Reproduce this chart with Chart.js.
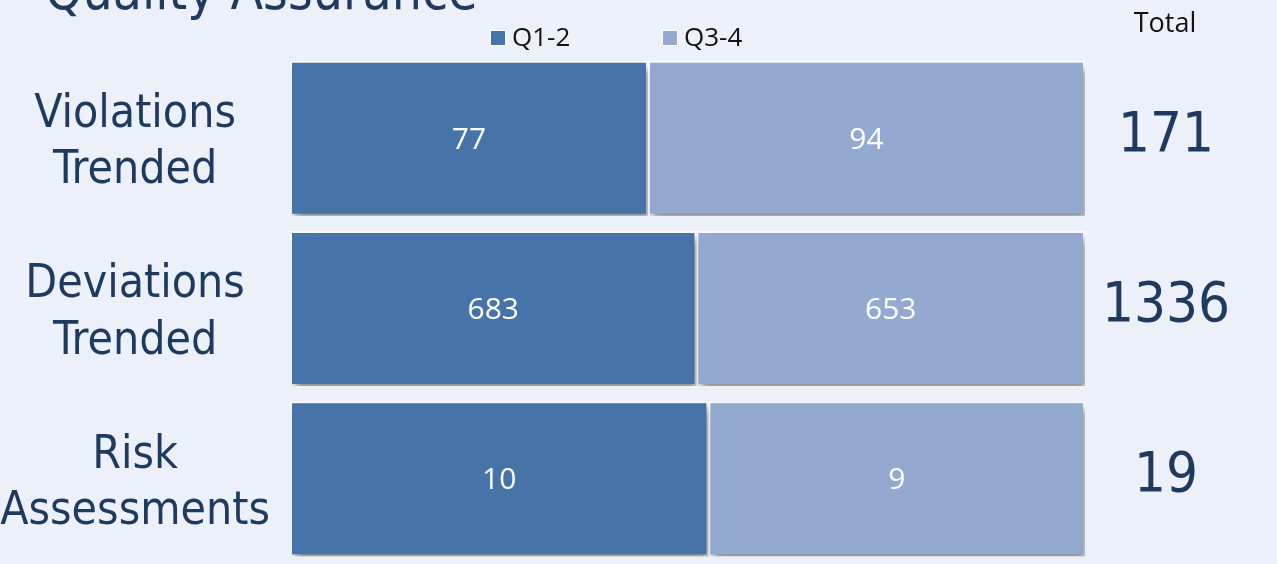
<!DOCTYPE html>
<html>
<head>
<meta charset="utf-8">
<script src="https://cdn.jsdelivr.net/npm/chart.js@4"></script>
<style>
  html, body { margin: 0; padding: 0; background: #ECF0F8; }
  #wrap { width: 1277px; height: 564px; position: relative; }
</style>
</head>
<body>
<div id="wrap"><canvas id="qaChart"></canvas></div>
<script>
// --- DATA ---
const categories = [['Violations', 'Trended'], ['Deviations', 'Trended'], ['Risk', 'Assessments']];
const seriesNames = ['Q1-2', 'Q3-4'];
const q12Values = [77, 683, 10];
const q34Values = [94, 653, 9];
const titleText = 'Quality Assurance';
const totalHeader = 'Total';

const NAVY = '#1E3A5F';
const COLOR_Q12 = '#4674A8';
const COLOR_Q34 = '#94A9D0';
const TAHOMA_LIKE = '"DejaVu Sans Condensed", "DejaVu Sans", sans-serif';
const CALIBRI_LIKE = '"Open Sans", "Liberation Sans", sans-serif';

// totaler pr. række og andel i procent (100% stablet)
const totals = q12Values.map((v, i) => v + q34Values[i]);
const q12Share = q12Values.map((v, i) => v / totals[i] * 100);
const q34Share = q34Values.map((v, i) => v / totals[i] * 100);
const rawValues = [q12Values, q34Values];

// Skygge under søjlerne
const shadowPlugin = {
    id: 'barShadow',
    beforeDatasetsDraw(chart) {
        const ctx = chart.ctx;
        ctx.save();
        ctx.shadowColor = 'rgba(0,0,0,0.45)';
        ctx.shadowBlur = 8;
        ctx.shadowOffsetX = 3;
        ctx.shadowOffsetY = 6;
    },
    afterDatasetsDraw(chart) {
        chart.ctx.restore();
    }
};

// Tekster: titel, legend, totaler og værdier i søjlerne
const textPlugin = {
    id: 'qaTexts',
    afterDraw(chart) {
        const ctx = chart.ctx;
        const yScale = chart.scales.y;
        ctx.save();

        // titel (skåret af i toppen)
        ctx.fillStyle = NAVY;
        ctx.textAlign = 'left';
        ctx.textBaseline = 'alphabetic';
        ctx.font = '53px ' + TAHOMA_LIKE;
        ctx.fillText(titleText, 45, 9);

        // legend
        ctx.font = '26px ' + CALIBRI_LIKE;
        ctx.textBaseline = 'middle';
        const legendX = [491, 663];
        chart.data.datasets.forEach((ds, i) => {
            ctx.fillStyle = '#ffffff';
            ctx.fillRect(legendX[i] - 1, 30, 16, 16);
            ctx.fillStyle = ds.backgroundColor;
            ctx.fillRect(legendX[i], 31, 14, 14);
            ctx.fillStyle = '#111111';
            ctx.fillText(ds.label, legendX[i] + 21, 39);
        });

        // "Total" overskrift
        ctx.font = '27px ' + CALIBRI_LIKE;
        ctx.textAlign = 'center';
        ctx.fillText(totalHeader, 1165, 24);

        // totaler
        ctx.fillStyle = NAVY;
        ctx.font = '56px ' + TAHOMA_LIKE;
        totals.forEach((t, i) => {
            ctx.fillText(String(t), 1166, yScale.getPixelForValue(i) - 2);
        });

        // værdier i søjlerne
        ctx.fillStyle = '#ffffff';
        ctx.font = '30px ' + CALIBRI_LIKE;
        chart.data.datasets.forEach((ds, di) => {
            const meta = chart.getDatasetMeta(di);
            meta.data.forEach((bar, i) => {
                const c = bar.getCenterPoint();
                ctx.fillText(String(rawValues[di][i]), c.x, c.y + 2);
            });
        });
        ctx.restore();
    }
};

const ctx = document.getElementById('qaChart').getContext('2d');
const qaChart = new Chart(ctx, {
    type: 'bar',
    data: {
        labels: categories,
        datasets: [
            { label: seriesNames[0], data: q12Share, backgroundColor: COLOR_Q12, borderColor: '#ffffff', borderWidth: 2, borderSkipped: false },
            { label: seriesNames[1], data: q34Share, backgroundColor: COLOR_Q34, borderColor: '#ffffff', borderWidth: 2, borderSkipped: false }
        ]
    },
    options: {
        indexAxis: 'y',
        responsive: true,
        maintainAspectRatio: false,
        animation: false,
        barPercentage: 0.91,
        categoryPercentage: 1,
        layout: { padding: { left: 0, right: 192, top: 53, bottom: 0 } },
        scales: {
            x: { stacked: true, min: 0, max: 100, display: false },
            y: {
                stacked: true,
                grid: { display: false, drawTicks: false },
                border: { display: false },
                ticks: {
                    color: NAVY,
                    font: { family: TAHOMA_LIKE, size: 46, lineHeight: 1.22 },
                    crossAlign: 'center',
                    padding: 20,
                    labelOffset: 5
                },
                afterFit(scale) {
                    scale.width = 290;
                    scale.paddingTop = 0;
                    scale.paddingBottom = 0;
                }
            }
        },
        plugins: {
            legend: { display: false },
            tooltip: { enabled: false }
        }
    },
    plugins: [shadowPlugin, textPlugin]
});
</script>
</body>
</html>
